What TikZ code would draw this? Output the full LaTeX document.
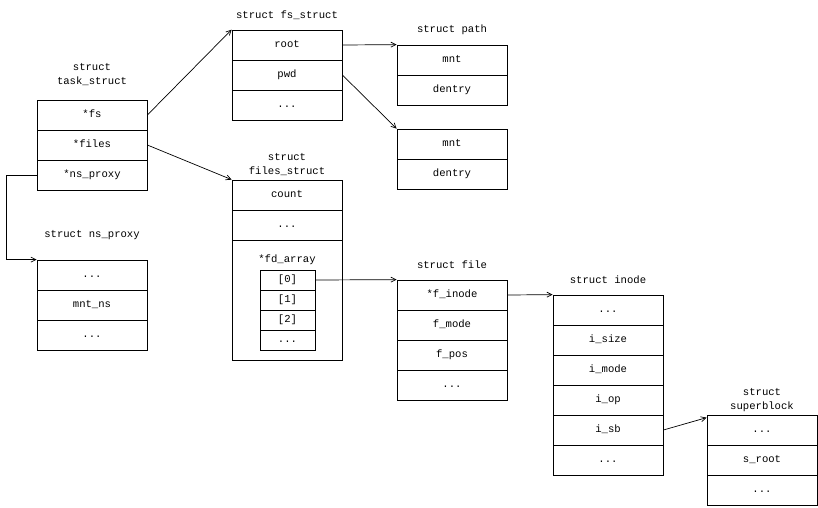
\documentclass[tikz,border=0pt]{standalone}
\usepackage{fontspec}
\setmonofont{Liberation Mono}
\usetikzlibrary{arrows.meta}

\begin{document}
\begin{tikzpicture}[
  x=1pt, y=-1pt,
  field/.style={draw, line width=0.75pt, minimum width=110pt, minimum height=30pt, inner sep=0pt,
                text height=8pt, text depth=2.5pt,
                font=\ttfamily\fontsize{10.6}{14}\selectfont},
  slot/.style={draw, line width=0.75pt, minimum width=55pt, minimum height=20pt, inner sep=0pt,
               text height=8pt, text depth=2.5pt,
               font=\ttfamily\fontsize{10.6}{14}\selectfont},
  title/.style={align=center, inner sep=0pt, font=\ttfamily\fontsize{10.6}{14}\selectfont},
  ptr/.style={-{Straight Barb[length=5pt,width=5pt]}, line width=0.7pt}
]
  \useasboundingbox (0,0) rectangle (818,507);

  % task_struct
  \node[title] (tsname) at (92, 75) {struct\\task\_struct};
  \node[field] (tsfs) at (92, 115) {*fs};
  \node[field] (tsfiles) at (92, 145) {*files};
  \node[field] (tsns) at (92, 175) {*ns\_proxy};

  % ns_proxy
  \node[title] (nsname) at (92, 235) {struct ns\_proxy};
  \node[field] (ns1) at (92, 275) {...};
  \node[field] (ns2) at (92, 305) {mnt\_ns};
  \node[field] (ns3) at (92, 335) {...};

  % fs_struct
  \node[title] (fsname) at (287, 15) {struct fs\_struct};
  \node[field] (fsroot) at (287, 45) {root};
  \node[field] (fspwd) at (287, 75) {pwd};
  \node[field] (fsdots) at (287, 105) {...};

  % path (root)
  \node[title] (p1name) at (452, 30) {struct path};
  \node[field] (p1mnt) at (452, 60) {mnt};
  \node[field] (p1den) at (452, 90) {dentry};

  % path (pwd)
  \node[field] (p2mnt) at (452, 144) {mnt};
  \node[field] (p2den) at (452, 174) {dentry};

  % files_struct
  \node[title] (fsxname) at (287, 165) {struct\\files\_struct};
  \node[field] (fxcount) at (287, 195) {count};
  \node[field] (fxdots) at (287, 225) {...};
  \node[field, minimum height=120pt] (fxarr) at (287, 300) {};
  \node[title] (fdname) at (287, 260) {*fd\_array};
  \node[slot] (fd0) at (287.5, 280) {[0]};
  \node[slot] (fd1) at (287.5, 300) {[1]};
  \node[slot] (fd2) at (287.5, 320) {[2]};
  \node[slot] (fd3) at (287.5, 340) {...};

  % file
  \node[title] (fname) at (452, 265) {struct file};
  \node[field] (finode) at (452, 295) {*f\_inode};
  \node[field] (fmode) at (452, 325) {f\_mode};
  \node[field] (fpos) at (452, 355) {f\_pos};
  \node[field] (fdots) at (452, 385) {...};

  % inode
  \node[title] (iname) at (608, 280) {struct inode};
  \node[field] (i1) at (608, 310) {...};
  \node[field] (isize) at (608, 340) {i\_size};
  \node[field] (imode) at (608, 370) {i\_mode};
  \node[field] (iop) at (608, 400) {i\_op};
  \node[field] (isb) at (608, 430) {i\_sb};
  \node[field] (i6) at (608, 460) {...};

  % superblock
  \node[title] (sbname) at (762, 400) {struct\\superblock};
  \node[field] (sb1) at (762, 430) {...};
  \node[field] (sbroot) at (762, 460) {s\_root};
  \node[field] (sb3) at (762, 490) {...};

  % pointers
  \draw[ptr] (tsfs.east) -- (fsroot.north west);
  \draw[ptr] (tsfiles.east) -- (fxcount.north west);
  \draw[ptr] (tsns.west) -- ++(-30, 0) |- (ns1.north west);
  \draw[ptr] (fsroot.east) -- (p1mnt.north west);
  \draw[ptr] (fspwd.east) -- (p2mnt.north west);
  \draw[ptr] (fd0.east) -- (finode.north west);
  \draw[ptr] (finode.east) -- (i1.north west);
  \draw[ptr] (isb.east) -- ([yshift=-3pt]sb1.north west);
\end{tikzpicture}
\end{document}
